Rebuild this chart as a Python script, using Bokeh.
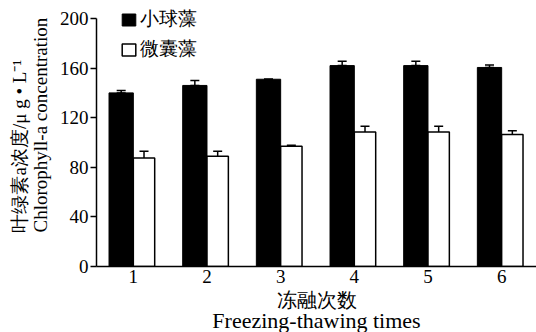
from bokeh.plotting import figure
from bokeh.models import (ColumnDataSource, Whisker, TeeHead, Legend, LegendItem,
                          Title, FixedTicker, Range1d)
from bokeh.embed import file_html
from bokeh.resources import INLINE

# ---- data ----
times = [1, 2, 3, 4, 5, 6]
tick_labels = ["1", "2", "3", "4", "5", "6"]
chlorella = [140, 146, 151, 162, 162, 160.5]        # 小球藻
chlorella_err = [2, 4, 0, 3.5, 3.5, 2]
microcystis = [87.5, 89, 97, 108.5, 108.5, 106.5]   # 微囊藻
microcystis_err = [5.5, 4, 0.8, 4.5, 4.5, 3]
y_ticks = [0, 40, 80, 120, 160, 200]

SERIF = "Liberation Serif"

black_x = [t - 0.165 for t in times]
white_x = [t + 0.145 for t in times]

src_b = ColumnDataSource(dict(x=black_x, top=chlorella,
                              lo=chlorella, hi=[v + e for v, e in zip(chlorella, chlorella_err)]))
src_w = ColumnDataSource(dict(x=white_x, top=microcystis,
                              lo=[v - e for v, e in zip(microcystis, microcystis_err)],
                              hi=[v + e for v, e in zip(microcystis, microcystis_err)]))

p = figure(width=536, height=332, output_backend="svg", toolbar_location=None,
           x_range=Range1d(0.5, 6.473), y_range=Range1d(0, 214.5),
           min_border_left=94, min_border_right=0, min_border_top=0, min_border_bottom=66)
p.outline_line_color = None
p.xgrid.grid_line_color = None
p.ygrid.grid_line_color = None

rb = p.vbar(x="x", top="top", bottom=0, width=0.33, source=src_b,
            fill_color="black", line_color="black", line_width=1)
rw = p.vbar(x="x", top="top", bottom=0, width=0.29, source=src_w,
            fill_color="white", line_color="black", line_width=1.5)

for src in (src_b, src_w):
    w = Whisker(base="x", lower="lo", upper="hi", source=src,
                line_color="black", line_width=1.5,
                upper_head=TeeHead(size=9, line_color="black", line_width=1.5),
                lower_head=TeeHead(size=9, line_color="black", line_width=1.5))
    p.add_layout(w)

# axes
xa = p.xaxis[0]
xa.ticker = FixedTicker(ticks=times)
xa.major_label_overrides = {t: l for t, l in zip(times, tick_labels)}
xa.major_tick_out = 0
xa.major_tick_in = 0
xa.minor_tick_out = 0
xa.minor_tick_in = 0
xa.axis_line_width = 1.5
xa.major_label_standoff = 3
xa.major_label_text_font = SERIF
xa.major_label_text_font_size = "19px"
xa.major_label_text_color = "black"

ya = p.yaxis[0]
ya.ticker = FixedTicker(ticks=y_ticks)
ya.bounds = (0, 200)
ya.major_tick_out = 6
ya.major_tick_in = 0
ya.minor_tick_out = 0
ya.minor_tick_in = 0
ya.axis_line_width = 1.5
ya.major_tick_line_width = 1.5
ya.major_label_standoff = 2
ya.major_label_text_font = SERIF
ya.major_label_text_font_size = "19px"
ya.major_label_text_color = "black"

# legend
legend = Legend(items=[LegendItem(label="小球藻", renderers=[rb]),
                       LegendItem(label="微囊藻", renderers=[rw])],
                location=(24, 204), glyph_width=17, glyph_height=15,
                label_height=15, spacing=4, padding=0, margin=0,
                label_standoff=3, border_line_alpha=0, background_fill_alpha=0,
                label_text_font=SERIF, label_text_font_size="19px",
                label_text_color="black")
p.add_layout(legend)

# axis titles
p.add_layout(Title(text="冻融次数", align="center", standoff=2,
                   text_font=SERIF, text_font_size="20px", text_font_style="normal",
                   text_color="black"), "below")
p.add_layout(Title(text="Freezing-thawing times", align="center", standoff=-12,
                   text_font=SERIF, text_font_size="22px", text_font_style="normal",
                   text_color="black"), "below")
p.add_layout(Title(text="叶绿素a浓度/μ g • L⁻¹\nChlorophyll-a concentration",
                   align="left", offset=34, standoff=12,
                   text_font=SERIF, text_font_size="19px", text_font_style="normal",
                   text_color="black"), "left")

open("out.html", "w").write(file_html(p, INLINE))
